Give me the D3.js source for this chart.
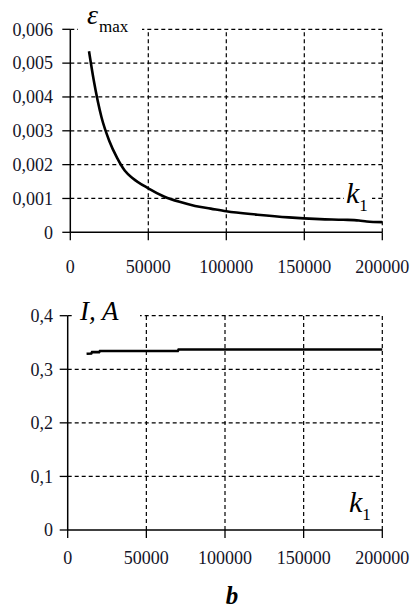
<!DOCTYPE html>
<html><head><meta charset="utf-8">
<script src="https://cdn.jsdelivr.net/npm/d3@7"></script>
<style>html,body{margin:0;padding:0;background:#fff}svg{display:block}</style>
</head><body>
<script>
// Top chart: epsilon_max vs k1
const k1Eps = [12000, 15000, 20000, 25000, 30000, 35000, 40000, 50000, 60000, 70000, 80000, 90000, 100000, 120000, 140000, 160000, 175000, 185000, 190000, 200000];
const epsMax = [0.00535, 0.0045, 0.0034, 0.0027, 0.0022, 0.00182, 0.0016, 0.0013, 0.00106, 0.0009, 0.00078, 0.0007, 0.00062, 0.00052, 0.00044, 0.00039, 0.00037, 0.00035, 0.00032, 0.0003];
const epsTicks = [0, 0.001, 0.002, 0.003, 0.004, 0.005, 0.006];
const epsTickLabels = ["0", "0,001", "0,002", "0,003", "0,004", "0,005", "0,006"];
// Bottom chart: I, A vs k1
const k1Cur = [12000, 15000, 15500, 20000, 20500, 70000, 70500, 200000];
const current = [0.329, 0.3295, 0.332, 0.332, 0.334, 0.334, 0.337, 0.337];
const curTicks = [0, 0.1, 0.2, 0.3, 0.4];
const curTickLabels = ["0", "0,1", "0,2", "0,3", "0,4"];
const kTicks = [0, 50000, 100000, 150000, 200000];
const kTickLabels = ["0", "50000", "100000", "150000", "200000"];

const svg = d3.select("body").append("svg").attr("width", 411).attr("height", 608);
const serif = "Liberation Serif, Times New Roman, serif";

function panel(opt) {
  const x = d3.scaleLinear().domain([0, 200000]).range(opt.xr);
  const y = d3.scaleLinear().domain(opt.yd).range(opt.yr);
  const g = svg.append("g");
  const x0 = x(0), xr = x(200000), y0 = y(opt.yd[0]), yt = y(opt.yd[1]);
  g.selectAll(".hg").data(opt.yTicks.filter(d => d > 0)).join("line")
    .attr("x1", x0).attr("x2", xr).attr("y1", d => y(d)).attr("y2", d => y(d))
    .attr("stroke", "#000").attr("stroke-width", 1.2).attr("stroke-dasharray", "4,3");
  g.selectAll(".vg").data(kTicks.filter(d => d > 0)).join("line")
    .attr("x1", d => x(d)).attr("x2", d => x(d)).attr("y1", y0).attr("y2", yt)
    .attr("stroke", "#000").attr("stroke-width", 1.2).attr("stroke-dasharray", "4,3");
  opt.labels(g, x, y);
  g.append("line").attr("x1", x0).attr("x2", x0).attr("y1", y0).attr("y2", yt).attr("stroke", "#000").attr("stroke-width", 1.5);
  g.append("line").attr("x1", x0).attr("x2", xr).attr("y1", y0).attr("y2", y0).attr("stroke", "#000").attr("stroke-width", 1.5);
  g.selectAll(".yt").data(opt.yTicks).join("line")
    .attr("x1", x0 - 8).attr("x2", x0).attr("y1", d => y(d)).attr("y2", d => y(d))
    .attr("stroke", "#000").attr("stroke-width", 1.3);
  g.selectAll(".xt").data(kTicks).join("line")
    .attr("x1", d => x(d)).attr("x2", d => x(d)).attr("y1", y0).attr("y2", y0 + 8)
    .attr("stroke", "#000").attr("stroke-width", 1.3);
  g.selectAll(".yl").data(opt.yTicks).join("text")
    .attr("x", 53).attr("y", d => y(d)).attr("dy", "0.35em").attr("text-anchor", "end")
    .style("font-family", serif).attr("font-size", 18).attr("fill", "#141428")
    .text((d, i) => opt.yLabels[i]);
  g.selectAll(".xl").data(kTicks).join("text")
    .attr("x", d => x(d)).attr("y", opt.xLabelY).attr("text-anchor", "middle")
    .style("font-family", serif).attr("font-size", 18).attr("fill", "#141428")
    .text((d, i) => kTickLabels[i]);
  g.append("path").datum(opt.xs.map((k, i) => [k, opt.ys[i]]))
    .attr("d", d3.line().x(d => x(d[0])).y(d => y(d[1])).curve(opt.curve))
    .attr("fill", "none").attr("stroke", "#000").attr("stroke-width", 2.6);
}

panel({
  xr: [70.3, 382.3], yd: [0, 0.006], yr: [232.3, 29.3],
  yTicks: epsTicks, yLabels: epsTickLabels, xLabelY: 273,
  xs: k1Eps, ys: epsMax, curve: d3.curveMonotoneX,
  labels: (g, x, y) => {
    g.append("rect").attr("x", 78).attr("y", 22).attr("width", 64).attr("height", 14).attr("fill", "#fff");
    const t = g.append("text").attr("x", 87).attr("y", 24).style("font-family", serif).attr("fill", "#000");
    t.append("tspan").attr("font-size", 28).attr("font-style", "italic").text("ε");
    t.append("tspan").attr("font-size", 17).attr("dx", 1).attr("dy", 8).text("max");
    g.append("rect").attr("x", 344).attr("y", 190).attr("width", 28).attr("height", 14).attr("fill", "#fff");
    const k = g.append("text").attr("x", 346).attr("y", 203).style("font-family", serif).attr("fill", "#000");
    k.append("tspan").attr("font-size", 30).attr("font-style", "italic").text("k");
    k.append("tspan").attr("font-size", 17).attr("dy", 8).text("1");
  }
});

panel({
  xr: [67.7, 382.3], yd: [0, 0.4], yr: [530, 315.7],
  yTicks: curTicks, yLabels: curTickLabels, xLabelY: 564,
  xs: k1Cur, ys: current, curve: d3.curveLinear,
  labels: (g, x, y) => {
    g.append("rect").attr("x", 72).attr("y", 310).attr("width", 68).attr("height", 14).attr("fill", "#fff");
    g.append("text").attr("x", 80).attr("y", 320).style("font-family", serif).attr("font-size", 27)
      .attr("font-style", "italic").attr("fill", "#000").text("I, A");
    const k = g.append("text").attr("x", 349).attr("y", 512).style("font-family", serif).attr("fill", "#000");
    k.append("tspan").attr("font-size", 30).attr("font-style", "italic").text("k");
    k.append("tspan").attr("font-size", 17).attr("dy", 8).text("1");
  }
});

svg.append("text").attr("x", 232).attr("y", 604).attr("text-anchor", "middle")
  .style("font-family", serif).attr("font-size", 25).attr("font-weight", "bold").attr("font-style", "italic")
  .attr("fill", "#000").text("b");
</script>
</body></html>
